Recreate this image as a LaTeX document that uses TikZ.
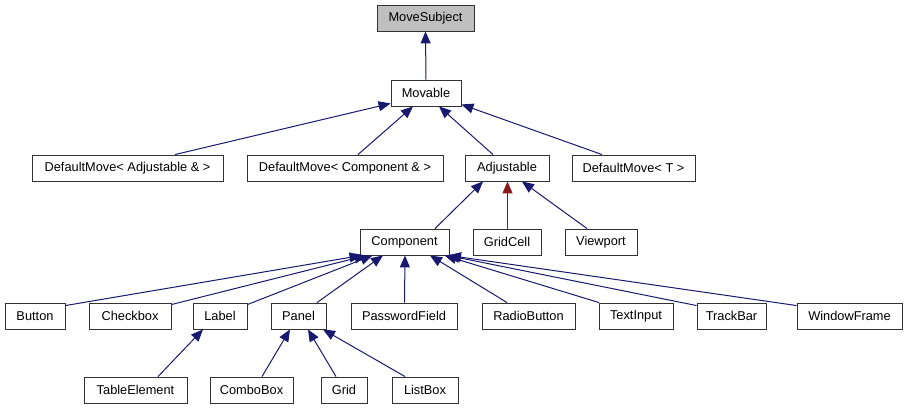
\documentclass[tikz,border=0pt]{standalone}
\usepackage{fontspec}
\setmainfont{Liberation Sans}
\usetikzlibrary{arrows.meta}
\definecolor{edgeblue}{HTML}{191970}
\definecolor{edgered}{HTML}{8B1A1A}
\definecolor{rootfill}{HTML}{BFBFBF}
\begin{document}
\begin{tikzpicture}[x=1pt,y=-1pt,
  cls/.style={draw=black!80,line width=0.9pt,fill=white,minimum height=26pt,
    inner sep=0pt,font=\fontsize{12.8}{15}\selectfont},
  root/.style={cls,fill=rootfill},
  inherit/.style={draw=edgeblue,line width=1pt,-{Triangle[length=12pt,width=10pt]}},
  privinherit/.style={inherit,draw=edgered}]
\useasboundingbox (0,0) rectangle (908,411);

% class boxes, top to bottom
\node[root,minimum width=97pt] (movesubject) at (425.5,18) {MoveSubject};
\node[cls,minimum width=70pt] (movable) at (426,93) {Movable};

\node[cls,minimum width=191pt] (dmadj) at (127.5,168) {DefaultMove< Adjustable \& >};
\node[cls,minimum width=196pt] (dmcomp) at (345,168) {DefaultMove< Component \& >};
\node[cls,minimum width=84pt] (adjustable) at (507,168) {Adjustable};
\node[cls,minimum width=123pt] (dmt) at (633.5,168) {DefaultMove< T >};

\node[cls,minimum width=89pt] (component) at (404.5,242) {Component};
\node[cls,minimum width=68pt] (gridcell) at (507,242) {GridCell};
\node[cls,minimum width=72pt] (viewport) at (601,242) {Viewport};

\node[cls,minimum width=60pt] (button) at (35,316) {Button};
\node[cls,minimum width=82pt] (checkbox) at (130,316) {Checkbox};
\node[cls,minimum width=54pt] (label) at (220,316) {Label};
\node[cls,minimum width=55pt] (panel) at (298.5,316) {Panel};
\node[cls,minimum width=106pt] (password) at (404,316) {PasswordField};
\node[cls,minimum width=93pt] (radio) at (528.5,316) {RadioButton};
\node[cls,minimum width=74pt] (textinput) at (636,316) {TextInput};
\node[cls,minimum width=69pt] (trackbar) at (731.5,316) {TrackBar};
\node[cls,minimum width=105pt] (windowframe) at (849.5,316) {WindowFrame};

\node[cls,minimum width=103pt] (tableelement) at (135.5,390) {TableElement};
\node[cls,minimum width=83pt] (combobox) at (251.5,390) {ComboBox};
\node[cls,minimum width=46pt] (grid) at (344,390) {Grid};
\node[cls,minimum width=66pt] (listbox) at (425,390) {ListBox};

% inheritance connectors, child to base
\draw[inherit] (movable.north) -- (movesubject.south);

\draw[inherit] ([xshift=47.5pt]dmadj.north) -- ([yshift=3pt]movable.south west);
\draw[inherit] ([xshift=13pt]dmcomp.north) -- ([xshift=-13pt]movable.south);
\draw[inherit] ([xshift=-14pt]adjustable.north) -- ([xshift=13pt]movable.south);
\draw[inherit] ([xshift=-31.5pt]dmt.north) -- ([yshift=2pt]movable.south east);

\draw[inherit] ([xshift=30.5pt]component.north) -- ([xshift=-24pt]adjustable.south);
\draw[privinherit] ([xshift=0.5pt]gridcell.north) -- ([xshift=0.5pt]adjustable.south);
\draw[inherit] ([xshift=-14pt]viewport.north) -- ([xshift=15pt]adjustable.south);

\draw[inherit] ([yshift=-3pt]button.north east) -- ([xshift=-43pt]component.south);
\draw[inherit] ([yshift=-2pt]checkbox.north east) -- ([xshift=-38pt]component.south);
\draw[inherit] ([yshift=-2pt]label.north east) -- ([xshift=-32pt]component.south);
\draw[inherit] ([xshift=18.5pt]panel.north) -- ([xshift=-21.5pt]component.south);
\draw[inherit] ([xshift=0.5pt]password.north) -- ([xshift=0.5pt]component.south);
\draw[inherit] ([xshift=-21.5pt]radio.north) -- ([xshift=25.5pt]component.south);
\draw[inherit] ([xshift=-37pt]textinput.north) -- ([xshift=40pt]component.south);
\draw[inherit] ([yshift=-3pt]trackbar.north west) -- ([xshift=43pt]component.south);
\draw[inherit] ([yshift=-3pt]windowframe.north west) -- ([xshift=44.5pt]component.south);

\draw[inherit] ([xshift=22.5pt]tableelement.north) -- ([xshift=-17pt]label.south);
\draw[inherit] ([xshift=10.5pt]combobox.north) -- ([xshift=-8.5pt]panel.south);
\draw[inherit] ([xshift=-8pt]grid.north) -- ([xshift=9.5pt]panel.south);
\draw[inherit] ([xshift=-20pt]listbox.north) -- ([xshift=24.5pt]panel.south);
\end{tikzpicture}
\end{document}
